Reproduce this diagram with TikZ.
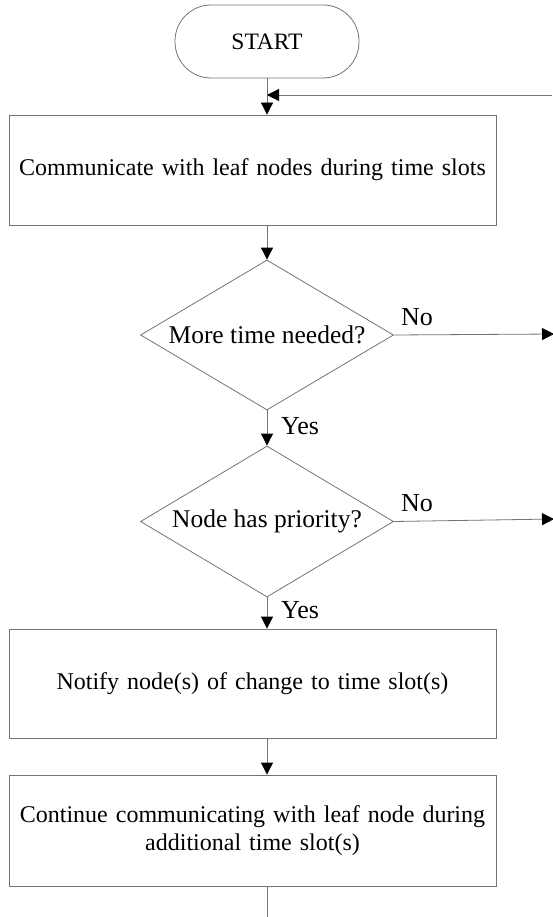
\documentclass[tikz,border=0pt]{standalone}
\usepackage{fontspec}
\setmainfont{Liberation Serif}
\usetikzlibrary{shapes.geometric,arrows.meta}
\definecolor{linegray}{RGB}{115,115,115}
\begin{document}
\begin{tikzpicture}[x=1pt,y=1pt,
  every node/.style={font=\fontsize{24}{28}\selectfont},
  line/.style={draw=linegray, line width=0.8pt},
  arr/.style={line, -{Triangle[length=12pt,width=12pt,color=black,fill=black]}},
  terminal/.style={draw=linegray, line width=0.8pt, rectangle, rounded corners=36pt, minimum width=184pt, minimum height=73pt, inner sep=0pt, font=\fontsize{23.5}{28}\selectfont},
  procbox/.style={draw=linegray, line width=0.8pt, rectangle, minimum width=487pt, inner sep=0pt, text width=480pt, align=center},
  decision/.style={draw=linegray, line width=0.8pt, diamond, aspect=1.69, minimum width=253pt, minimum height=150pt, inner sep=0pt, font=\fontsize{25.5}{28}\selectfont},
  lbl/.style={inner sep=0pt, font=\fontsize{26}{28}\selectfont}]
\useasboundingbox (0,0) rectangle (552,-917);
\node[terminal] (start) at (267,-41.5) {START};
\node[procbox, minimum height=110pt] (b1) at (252.5,-170) {Communicate with leaf nodes during time slots};
\node[decision] (d1) at (267,-335) {More time needed?};
\node[decision, minimum height=151pt] (d2) at (267,-521.5) {Node has priority?};
\node[procbox, minimum height=109pt] (b3) at (252.5,-683.5) {Notify node(s) of change to time slot(s)};
\node[procbox, minimum height=111pt] (b4) at (252.5,-830.5) {Continue communicating with leaf node during\\additional time slot(s)};
\node[lbl] (no1) at (417,-317) {No};
\node[lbl] (no2) at (417,-503) {No};
\node[lbl] (yes1) at (300,-426) {Yes};
\node[lbl] (yes2) at (300,-610) {Yes};
\coordinate (fb) at (552,-95);
\coordinate (n1) at (554,-334);
\coordinate (n2) at (554,-519);
\coordinate (bot) at (267,-917);
\draw[arr] (start.south) -- (start.south |- b1.north);
\draw[arr] (fb) -- (start.south |- fb);
\draw[arr] (d1.north |- b1.south) -- (d1.north);
\draw[arr] (d1.south) -- (d2.north);
\draw[arr] (d1.east) -- (n1);
\draw[arr] (d2.east) -- (n2);
\draw[arr] (d2.south) -- (d2.south |- b3.north);
\draw[arr] (start.south |- b3.south) -- (start.south |- b4.north);
\draw[line] (start.south |- b4.south) -- (bot);
\end{tikzpicture}
\end{document}
